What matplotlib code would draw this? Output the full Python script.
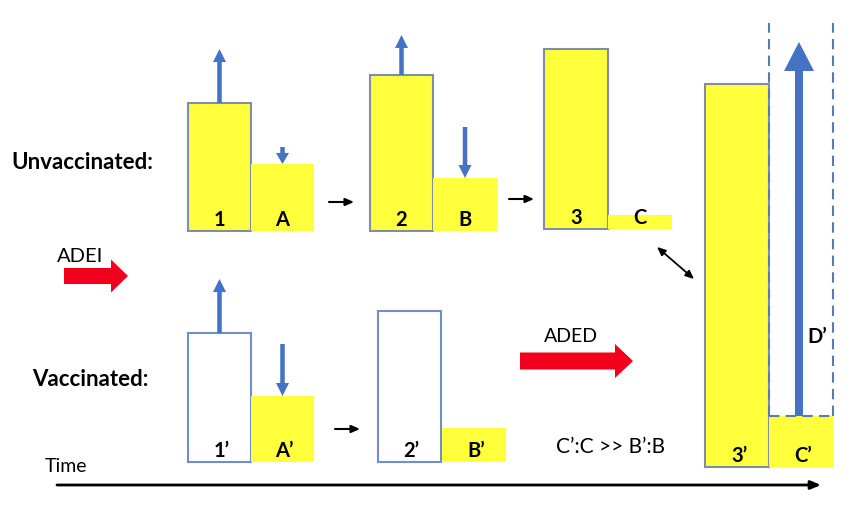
import matplotlib
matplotlib.use("Agg")
import matplotlib.pyplot as plt

# bar heights (pixels of the original drawing), top row = unvaccinated
unvacc_labels = ["1", "A", "2", "B", "3", "C"]
unvacc_heights = [128, 67, 156, 53, 180, 14]

# bottom row = vaccinated
vacc_labels = ["1’", "A’", "2’", "B’", "3’", "C’"]
vacc_heights = [129, 66, 151, 34, 383, 51]

# blue change arrows: (bar index, length, direction)
unvacc_arrows = [(0, 54, 1), (1, 17, -1), (2, 40, 1), (3, 51, -1)]
vacc_arrows = [(0, 54, 1), (1, 52, -1)]
dprime_height = 374

YELLOW = "#ffff3c"
BLUE = "#4472c4"
EDGE = "#7f8ea6"
RED = "#f0001c"
FONT = ["Lato", "DejaVu Sans"]

# layout (left edges, widths, baselines in pixel space, y measured upward)
unvacc_left = [188, 251, 370, 433, 544, 608]
unvacc_base = [278, 278, 278, 278, 280, 280]
vacc_left = [188, 251, 378, 442, 705, 769]
vacc_base = [47, 47, 47, 47, 42, 42]
widths = [63, 63, 63, 64, 64, 64]
unvacc_style = ["edge", "plain", "edge", "plain", "edge", "plain"]
vacc_style = ["empty", "plain", "empty", "plain", "edge", "plain"]

fig = plt.figure(figsize=(8.53, 5.09), dpi=100)
ax = fig.add_axes([0, 0, 1, 1])
ax.set_xlim(0, 853)
ax.set_ylim(0, 509)
ax.axis("off")


def draw_bar(left, width, base, height, style):
    if style == "edge":
        ax.bar(left, height, width, bottom=base, align="edge", color=YELLOW,
               edgecolor=EDGE, linewidth=1.5)
    elif style == "empty":
        ax.bar(left, height, width, bottom=base, align="edge", color="white",
               edgecolor="#6f8fc8", linewidth=1.5)
    else:
        ax.bar(left, height, width, bottom=base, align="edge", color=YELLOW,
               linewidth=0)


def blue_arrow(x, y0, length, direction):
    ax.arrow(x, y0, 0, direction * length, width=4.5, head_width=13,
             head_length=min(13, length * 0.65), length_includes_head=True,
             color=BLUE, lw=0)


for labels, heights, lefts, bases, styles, arrows in [
        (unvacc_labels, unvacc_heights, unvacc_left, unvacc_base, unvacc_style, unvacc_arrows),
        (vacc_labels, vacc_heights, vacc_left, vacc_base, vacc_style, vacc_arrows)]:
    for lab, h, l, b, s, w in zip(labels, heights, lefts, bases, styles, widths):
        draw_bar(l, w, b, h, s)
        ax.text(l + w / 2 + (2 if "’" in lab else 0), b + 1, lab, ha="center", va="bottom",
                fontsize=14.5, fontweight="bold", family=FONT)
    for i, length, d in arrows:
        x = lefts[i] + widths[i] / 2
        top = bases[i] + heights[i]
        if d > 0:
            blue_arrow(x, top, length, 1)
        else:
            blue_arrow(x, top + length, length, -1)

# dashed box and big D' arrow
c_left, c_w = vacc_left[5], widths[5]
c_top = vacc_base[5] + vacc_heights[5]
ax.plot([c_left, c_left], [c_top, 486], ls=(0, (5, 3)), color="#5b7bb0", lw=1.5)
ax.plot([c_left + c_w, c_left + c_w], [c_top, 486], ls=(0, (5, 3)), color="#5b7bb0", lw=1.5)
ax.plot([c_left, c_left + c_w], [c_top, c_top], ls=(0, (5, 3)), color="#5b7bb0", lw=1.5)
ax.arrow(c_left + 30, c_top, 0, dprime_height, width=8, head_width=30, head_length=29,
         length_includes_head=True, color=BLUE, lw=0)
ax.text(c_left + 38, 172, "D’", fontsize=14.5, fontweight="bold", family=FONT,
        va="center")

# red arrows
ax.arrow(64, 233, 64, 0, width=16, head_width=33, head_length=17,
         length_includes_head=True, color=RED, lw=0)
ax.text(57, 253, "ADEI", fontsize=14.5, family=FONT, va="center")
ax.arrow(520, 148, 113, 0, width=17, head_width=34, head_length=18,
         length_includes_head=True, color=RED, lw=0)
ax.text(544, 172, "ADED", fontsize=14, family=FONT, va="center")

# small black arrows
for x0, x1, y in [(329, 354, 307), (509, 534, 310), (335, 360, 80)]:
    ax.annotate("", xy=(x1, y), xytext=(x0, y),
                arrowprops=dict(arrowstyle="-|>,head_length=0.5,head_width=0.22",
                                color="black", lw=1.5, shrinkA=0, shrinkB=0))
ax.annotate("", xy=(694, 230), xytext=(657, 262),
            arrowprops=dict(arrowstyle="<|-|>,head_length=0.5,head_width=0.22",
                            color="black", lw=1.3, shrinkA=0, shrinkB=0))

# time axis
ax.annotate("", xy=(821, 24), xytext=(57, 24),
            arrowprops=dict(arrowstyle="-|>,head_length=0.6,head_width=0.25",
                            color="black", lw=2, shrinkA=0, shrinkB=0))
ax.text(45, 43, "Time", fontsize=14, family=FONT, va="center")

ax.text(11, 347, "Unvaccinated:", fontsize=16, fontweight="bold", family=FONT, va="center")
ax.text(32, 130, "Vaccinated:", fontsize=16, fontweight="bold", family=FONT, va="center")
ax.text(556, 62, "C’:C >> B’:B", fontsize=15, family=FONT, va="center")

fig.savefig("out.png", dpi=100)
